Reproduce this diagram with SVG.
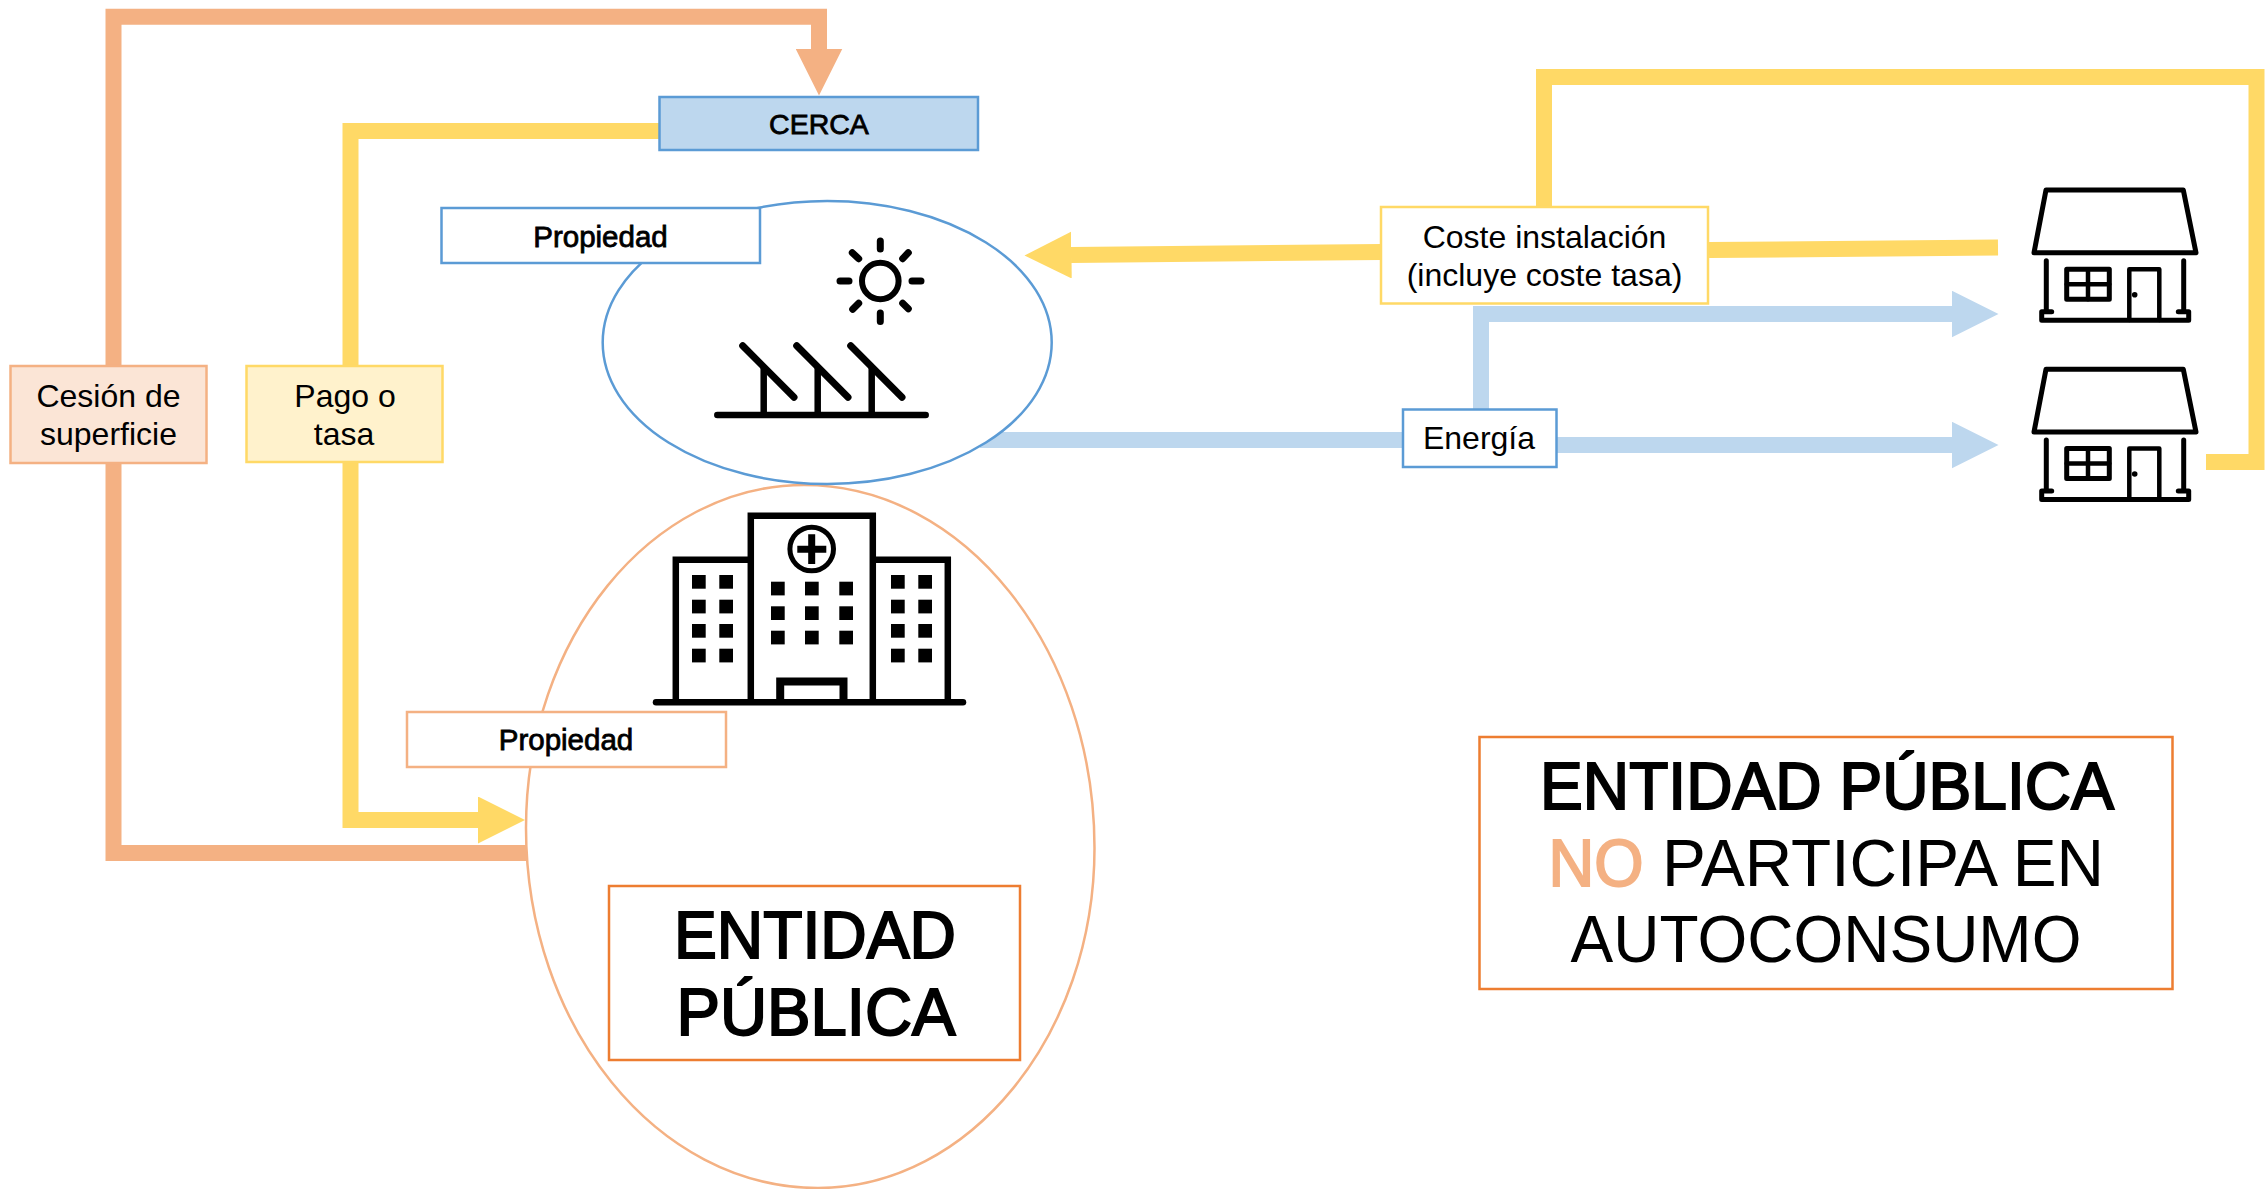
<svg xmlns="http://www.w3.org/2000/svg" width="2266" height="1189" viewBox="0 0 2266 1189">
<style>
text{font-family:"Liberation Sans",Arial,sans-serif;fill:#000;text-anchor:middle}
.s{font-size:32px}
.m{font-size:29.5px;stroke:#000;stroke-width:.8px}
.b{font-size:66px}
.bm{stroke:#000;stroke-width:2px}
.c{fill:none;stroke-width:16}
.or{stroke:#F4B183}.ye{stroke:#FFD966}.bl{stroke:#BDD7EE}
.box{stroke-width:2.5}
.ic{fill:none;stroke:#000;stroke-linecap:round;stroke-linejoin:round}
.wn{fill:#000}
</style>
<defs>
<marker id="aor" markerUnits="userSpaceOnUse" viewBox="0 0 47 47" markerWidth="47" markerHeight="47" refX="0.5" refY="23.5" orient="auto"><path d="M0 0L47 23.5L0 47Z" fill="#F4B183"/></marker>
<marker id="aye" markerUnits="userSpaceOnUse" viewBox="0 0 47 47" markerWidth="47" markerHeight="47" refX="0.5" refY="23.5" orient="auto"><path d="M0 0L47 23.5L0 47Z" fill="#FFD966"/></marker>
<marker id="abl" markerUnits="userSpaceOnUse" viewBox="0 0 47 47" markerWidth="47" markerHeight="47" refX="0.5" refY="23.5" orient="auto"><path d="M0 0L47 23.5L0 47Z" fill="#BDD7EE"/></marker>
<g id="house" class="ic">
<path d="M2046 190H2183.3L2196 252.7H2034Z" stroke-width="5"/>
<path d="M2046.3 260.7V311.7M2183.7 260.7V311.7M2051.7 311.7H2041.7V320.3H2188.7V311.7H2178.3" stroke-width="5"/>
<rect x="2066.7" y="269.3" width="42.6" height="30" stroke-width="5"/>
<path d="M2088 269.3V299.3M2066.7 284.3H2109.3" stroke-width="4.5"/>
<path d="M2129.3 320V269.3H2159.3V320" stroke-width="4.5"/>
<circle cx="2134.7" cy="294.7" r="2.8" fill="#000" stroke="none"/>
</g>
</defs>
<rect width="2266" height="1189" fill="#fff"/>
<g id="connectors">
<path class="c or" d="M530 853H113.5V16.7H819V49" marker-end="url(#aor)"/>
<path class="c ye" d="M659 131H350.5V820H478.5" marker-end="url(#aye)"/>
<path class="c ye" d="M1381 252L1071 255" marker-end="url(#aye)"/>
<path class="c ye" d="M1998 247.5L1709 250"/>
<path class="c ye" d="M2206 462H2256.5V77H1544V206"/>
<path class="c bl" d="M980 440H1403"/>
<path class="c bl" d="M1481 409V314H1952" marker-end="url(#abl)"/>
<path class="c bl" d="M1557 445H1952" marker-end="url(#abl)"/>
</g>
<g id="entidad-ellipse"><path d="M804 485C964 485 1094.5 648 1094.5 848C1094.5 1035 970 1188 818 1188C657 1188 526 1026 526 828C526 639 651 485 804 485Z" fill="#fff" stroke="#F4B183" stroke-width="2.5"/></g>
<g id="solar-ellipse"><ellipse cx="827.2" cy="342.5" rx="224.5" ry="141.5" fill="#fff" stroke="#5B9BD5" stroke-width="2.5"/></g>
<g id="solar-icon" class="ic">
<circle cx="880.3" cy="281" r="18.3" stroke-width="6"/>
<path stroke-width="7" d="M880.3 241V249M880.3 313V321.6M840 281H849M912 281H921M852.3 252.7L858.7 258.7M908.3 252.7L902.7 258.7M852.7 309.3L858.7 303.3M908.3 308.7L902.7 303.3"/>
<path stroke-width="6.5" d="M717.3 415H925.7"/>
<path stroke-width="7" d="M742.7 345.7L794 397.3M796.7 345.7L848 397.3M850.7 345.7L902 397.3"/>
<path stroke-width="6.5" stroke-linecap="butt" d="M763.7 366.7V415M817.7 366.7V415M871.7 366.7V415"/>
</g>
<g id="hospital-icon">
<g fill="none" stroke="#000" stroke-width="6.5">
<path d="M675.8 702V559.7H750.8M872.8 559.7H947.8V702"/>
<path d="M750.8 702V515.8H872.8V702"/>
<path stroke-width="8" d="M780.2 702V681.5H843.5V702"/>
<circle cx="811.7" cy="549" r="21.8" stroke-width="5"/>
</g>
<path stroke="#000" stroke-width="6.5" stroke-linecap="round" d="M656 702.3H963"/>
<path class="wn" d="M808.2 534.3h7v11.4h11.1v7h-11.1V564h-7v-11.3h-10.9v-7h10.9z"/>
<g class="wn">
<rect x="692" y="575" width="13.7" height="13.7"/><rect x="719.3" y="575" width="13.7" height="13.7"/>
<rect x="692" y="599.7" width="13.7" height="13.7"/><rect x="719.3" y="599.7" width="13.7" height="13.7"/>
<rect x="692" y="624" width="13.7" height="13.7"/><rect x="719.3" y="624" width="13.7" height="13.7"/>
<rect x="692" y="648.7" width="13.7" height="13.7"/><rect x="719.3" y="648.7" width="13.7" height="13.7"/>
<rect x="771" y="581.7" width="13.7" height="13.7"/><rect x="805" y="581.7" width="13.7" height="13.7"/><rect x="839.3" y="581.7" width="13.7" height="13.7"/>
<rect x="771" y="606.3" width="13.7" height="13.7"/><rect x="805" y="606.3" width="13.7" height="13.7"/><rect x="839.3" y="606.3" width="13.7" height="13.7"/>
<rect x="771" y="630.7" width="13.7" height="13.7"/><rect x="805" y="630.7" width="13.7" height="13.7"/><rect x="839.3" y="630.7" width="13.7" height="13.7"/>
<rect x="891" y="575" width="13.7" height="13.7"/><rect x="918.3" y="575" width="13.7" height="13.7"/>
<rect x="891" y="599.7" width="13.7" height="13.7"/><rect x="918.3" y="599.7" width="13.7" height="13.7"/>
<rect x="891" y="624" width="13.7" height="13.7"/><rect x="918.3" y="624" width="13.7" height="13.7"/>
<rect x="891" y="648.7" width="13.7" height="13.7"/><rect x="918.3" y="648.7" width="13.7" height="13.7"/>
</g>
</g>
<g id="house-1"><use href="#house"/></g>
<g id="house-2"><use href="#house" y="179.3"/></g>
<g id="cerca"><rect class="box" x="659.5" y="97" width="318.5" height="53" fill="#BDD7EE" stroke="#5B9BD5"/><text class="m" x="819" y="134" style="font-size:28.5px">CERCA</text></g>
<g id="propiedad-solar"><rect class="box" x="441.5" y="208" width="318.5" height="55" fill="#fff" stroke="#5B9BD5"/><text class="m" x="600.5" y="246.5">Propiedad</text></g>
<g id="propiedad-entidad"><rect class="box" x="407" y="712" width="319" height="55" fill="#fff" stroke="#F4B183"/><text class="m" x="566" y="750">Propiedad</text></g>
<g id="cesion"><rect class="box" x="10.5" y="366" width="196" height="97" fill="#FBE5D6" stroke="#F4B183"/><text class="s" x="108.5" y="406.5">Cesión de</text><text class="s" x="108.5" y="445">superficie</text></g>
<g id="pago"><rect class="box" x="246.5" y="366" width="196" height="96" fill="#FFF2CC" stroke="#FFD966"/><text class="s" x="345" y="406.5">Pago o</text><text class="s" x="344" y="445">tasa</text></g>
<g id="coste"><rect class="box" x="1381" y="207" width="327" height="96.5" fill="#fff" stroke="#FFD966"/><text class="s" x="1544.5" y="247.5">Coste instalación</text><text class="s" x="1544.5" y="286">(incluye coste tasa)</text></g>
<g id="energia"><rect class="box" x="1403" y="409.5" width="153.5" height="57.5" fill="#fff" stroke="#5B9BD5"/><text class="s" x="1479" y="449">Energía</text></g>
<g id="entidad"><rect x="609" y="886" width="411" height="174" fill="#fff" stroke="#ED7D31" stroke-width="2.5"/><text class="b bm" x="815" y="958" textLength="282" lengthAdjust="spacingAndGlyphs">ENTIDAD</text><text class="b bm" x="816" y="1035" textLength="279" lengthAdjust="spacingAndGlyphs">PÚBLICA</text></g>
<g id="no-participa"><rect x="1479.5" y="737" width="693" height="252" fill="#fff" stroke="#ED7D31" stroke-width="2.5"/><text class="b bm" x="1827" y="809" textLength="574" lengthAdjust="spacingAndGlyphs">ENTIDAD PÚBLICA</text><text class="b bm" x="1596" y="886" textLength="95" lengthAdjust="spacingAndGlyphs" style="fill:#F4B183;stroke:#F4B183">NO</text><text class="b" x="1883" y="886" textLength="442" lengthAdjust="spacingAndGlyphs">PARTICIPA EN</text><text class="b" x="1826" y="962" textLength="511" lengthAdjust="spacingAndGlyphs">AUTOCONSUMO</text></g>
</svg>
